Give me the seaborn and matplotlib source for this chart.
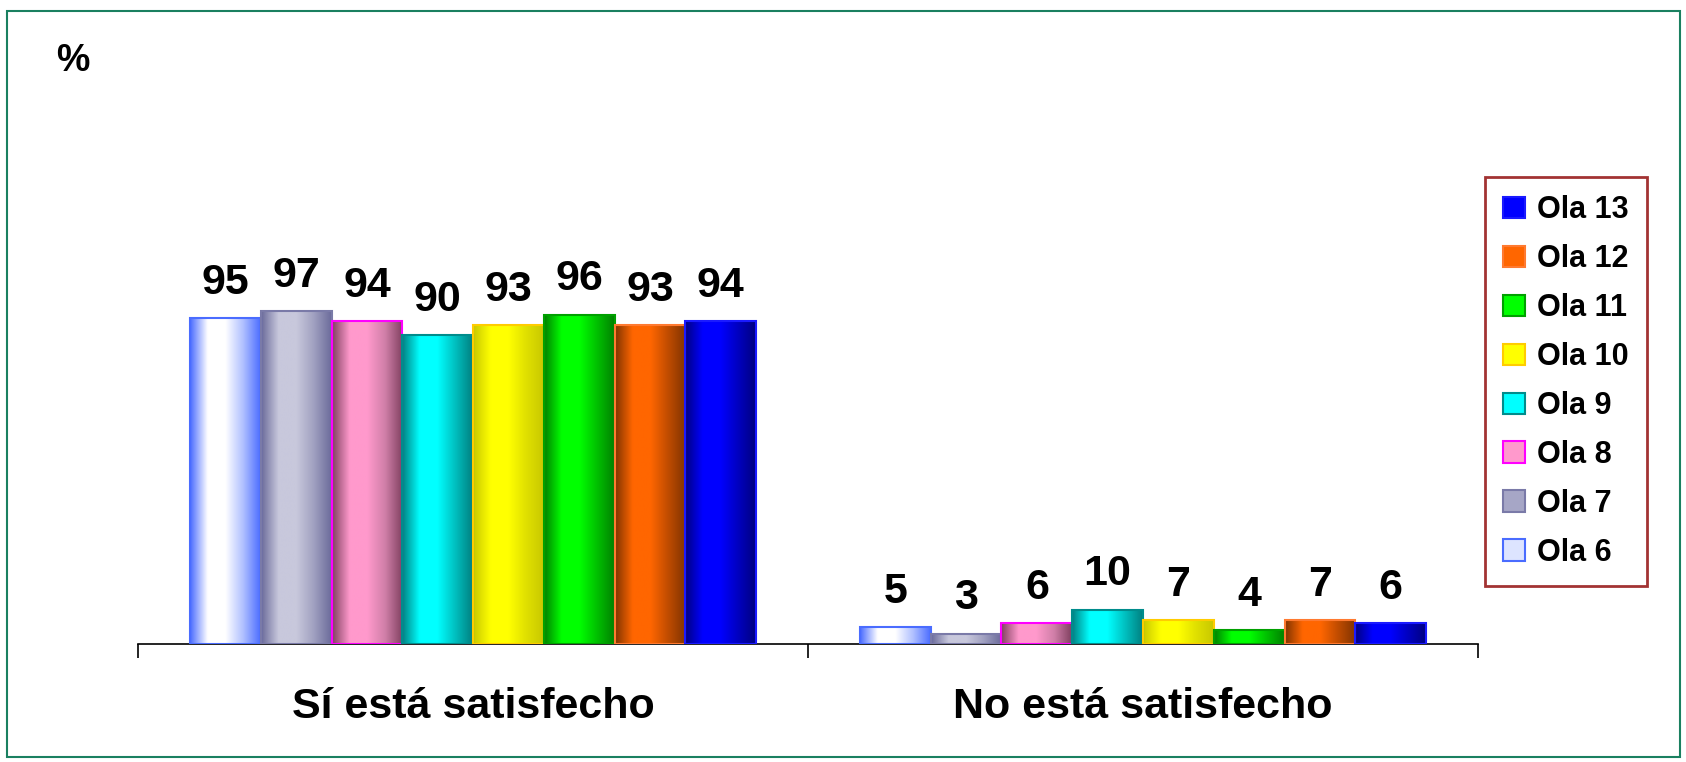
import matplotlib
matplotlib.use("Agg")
import matplotlib.pyplot as plt
import numpy as np
import pandas as pd
import seaborn as sns
from matplotlib.colors import LinearSegmentedColormap
from matplotlib.patches import Patch, Rectangle

categories = ["Sí está satisfecho", "No está satisfecho"]
waves = ["Ola 6", "Ola 7", "Ola 8", "Ola 9", "Ola 10", "Ola 11", "Ola 12", "Ola 13"]
si_values = [95, 97, 94, 90, 93, 96, 93, 94]
no_values = [5, 3, 6, 10, 7, 4, 7, 6]

# base colour, edge colour and left->right shading of each wave
face = ["#dde4ff", "#a6a6c6", "#ff99cc", "#00ffff", "#ffff00", "#00ff00", "#ff6600", "#0000ff"]
edge = ["#4a6cff", "#7a7aa8", "#ff00ff", "#008c8c", "#ffcc00", "#00a000", "#ff7a30", "#1a1aff"]
shade = [
    ["#4a6cff", "#ffffff", "#ffffff", "#b0c0ff", "#4a6cff"],
    ["#6a6a9a", "#c8c8dc", "#c8c8dc", "#a0a0c0", "#6a6a9a"],
    ["#804060", "#ff99cc", "#ff99cc", "#d07fa8", "#804060"],
    ["#008080", "#00ffff", "#00ffff", "#00c0c0", "#008080"],
    ["#c8c800", "#ffff00", "#ffff00", "#e0e000", "#c8c800"],
    ["#008000", "#00ff00", "#00ff00", "#00c000", "#008000"],
    ["#803300", "#ff6600", "#ff6600", "#c04c00", "#803300"],
    ["#000080", "#0000ff", "#0000ff", "#0000c0", "#000080"],
]

df = pd.DataFrame({
    "cat": [categories[0]] * len(waves) + [categories[1]] * len(waves),
    "ola": waves * 2,
    "val": si_values + no_values,
})

sns.set_theme(style="white")
plt.rcParams["font.family"] = ["Liberation Sans", "DejaVu Sans"]
plt.rcParams["font.weight"] = "bold"
plt.rcParams["text.color"] = "black"
plt.rcParams["xtick.color"] = "black"
plt.rcParams["xtick.labelcolor"] = "black"

fig = plt.figure(figsize=(16.86, 7.62), dpi=100)
ax = fig.add_axes([0.0819, 0.1549, 0.7947, 0.7205])

sns.barplot(data=df, x="cat", y="val", hue="ola", order=categories, hue_order=waves,
            palette=face, width=0.845, gap=0, legend=False, ax=ax)

grad = np.linspace(0, 1, 256).reshape(1, -1)
for i, cont in enumerate(ax.containers):
    cmap = LinearSegmentedColormap.from_list(f"s{i}", shade[i])
    for p in cont.patches:
        x, w, h = p.get_x(), p.get_width(), p.get_height()
        im = ax.imshow(grad, extent=[x, x + w, 0, h], aspect="auto", cmap=cmap,
                       zorder=2, interpolation="bilinear")
        im.set_clip_path(p)
        p.set_facecolor("none")
        p.set_edgecolor(edge[i])
        p.set_linewidth(1.5)
        p.set_zorder(3)
    ax.bar_label(cont, fmt="%d", padding=11, fontsize=31, fontweight="bold", color="black")

ax.set_xlim(-0.5, 1.5)
ax.set_ylim(0, 160)
ax.set_xlabel("")
ax.set_ylabel("")
ax.set_yticks([])
ax.set_xticks([0, 1])
ax.set_xticklabels(categories, fontsize=31, fontweight="bold", color="black")
ax.set_xticks([-0.5, 0.5, 1.5], minor=True)
ax.tick_params(axis="x", which="major", length=0, pad=31)
ax.tick_params(axis="x", which="minor", length=10, width=1.2, color="black", direction="out", bottom=True)
for s in ["top", "right", "left"]:
    ax.spines[s].set_visible(False)
ax.spines["bottom"].set_color("black")
ax.spines["bottom"].set_linewidth(1.2)

fig.text(0.0433, 0.92, "%", fontsize=27, fontweight="bold", color="black", ha="center", va="center")

handles = [Patch(facecolor=face[i], edgecolor=edge[i], linewidth=1.5, label=waves[i])
           for i in range(len(waves))][::-1]
leg = fig.legend(handles=handles, loc="upper left", bbox_to_anchor=(0.8808, 0.768),
                 bbox_transform=fig.transFigure, borderaxespad=0,
                 prop={"weight": "bold", "size": 22}, frameon=True, fancybox=False,
                 handlelength=0.7, handleheight=0.7, handletextpad=0.4,
                 labelspacing=0.62, borderpad=0.6, labelcolor="black")
leg.get_frame().set_edgecolor("#8b0000")
leg.get_frame().set_linewidth(2)

fig.patches.append(Rectangle((0.0042, 0.006), 0.9925, 0.98, transform=fig.transFigure,
                             fill=False, edgecolor="#1a8060", linewidth=1.5))

fig.savefig("out.png", dpi=100)
